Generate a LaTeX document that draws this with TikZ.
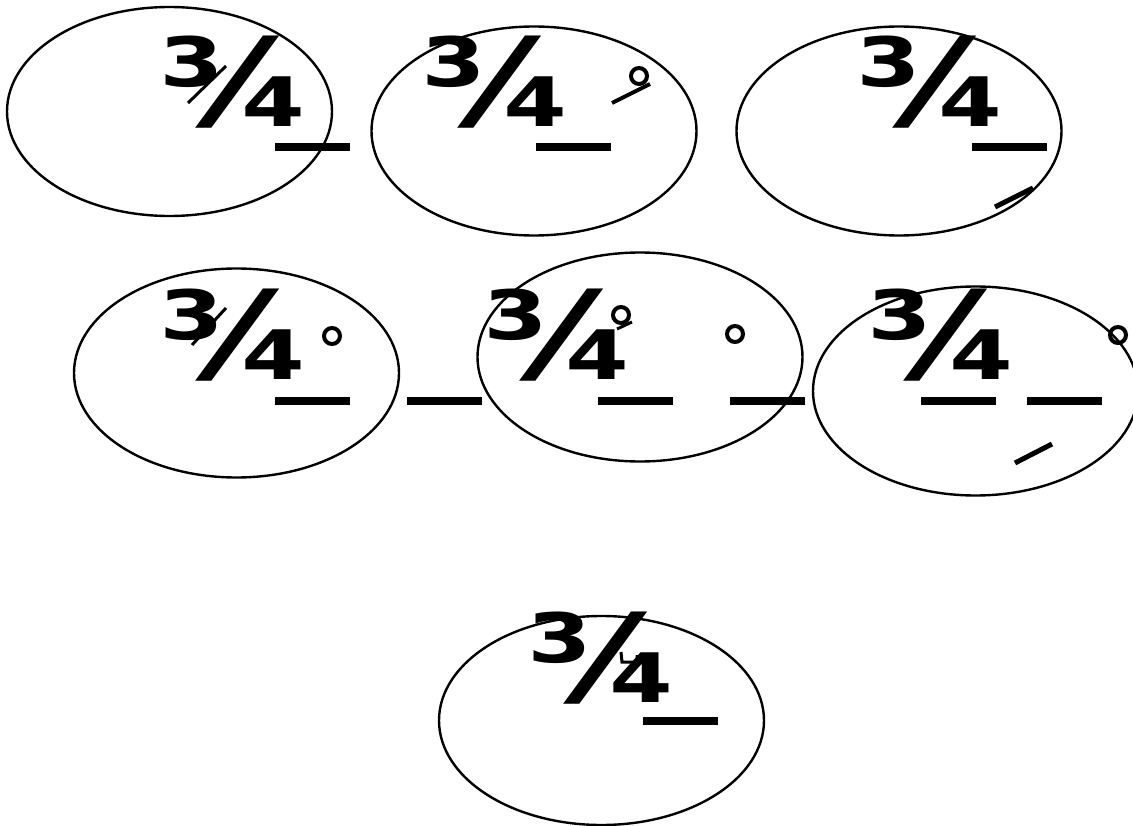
\documentclass[tikz,border=0pt]{standalone}
\usepackage{fontspec}
\newfontfamily\fracfont{DejaVu Sans}[FakeStretch=1.22]
\usetikzlibrary{shapes.geometric,positioning}

\begin{document}
\begin{tikzpicture}[x=1pt,y=-1pt,every node/.style={outer sep=0pt,inner sep=0pt}]
\tikzstyle{oval}=[draw,ellipse,line width=2.4pt,minimum width=325pt,minimum height=209pt]
\tikzstyle{frac}=[font=\fracfont\bfseries\fontsize{122}{122}\selectfont,anchor=base west]
\tikzstyle{bar}=[fill,minimum width=75pt,minimum height=8pt]
\tikzstyle{ring}=[draw,circle,line width=4pt,minimum size=16pt]
\tikzstyle{tick}=[line width=5pt]

\useasboundingbox (0,0) rectangle (1133,826);

% ovals
\node (oval1) [oval] at (169.5,111.5) {};
\node (oval2) [oval] at (534,131) {};
\node (oval3) [oval] at (899,131) {};
\node (oval4) [oval] at (236.5,373) {};
\node (oval5) [oval] at (640,357) {};
\node (oval6) [oval] at (975.5,391) {};
\node (oval7) [oval] at (601.5,720.5) {};

% fractions
\node (frac1) [frac] at (158,127) {¾};
\node (frac2) [frac] at (420,127) {¾};
\node (frac3) [frac] at (855,127) {¾};
\node (frac4) [frac] at (158,380) {¾};
\node (frac5) [frac] at (482,380) {¾};
\node (frac6) [frac] at (866,380) {¾};
\node (frac7) [frac] at (526,702) {¾};

% bars
\node (bar1) [bar] at (312.5,147) {};
\node (bar2) [bar] at (573.5,147) {};
\node (bar3) [bar] at (1009.5,147) {};
\node (bar4a) [bar] at (312.5,401) {};
\node (bar4b) [bar] at (444.5,401) {};
\node (bar5a) [bar] at (635.5,401) {};
\node (bar5b) [bar] at (767.5,401) {};
\node (bar6a) [bar] at (958.5,401) {};
\node (bar6b) [bar] at (1064.5,401) {};
\node (bar7) [bar] at (680.5,721) {};

% rings
\node (ring2) [ring] at (639,76) {};
\node (ring4) [ring] at (332,336) {};
\node (ring5a) [ring] at (621,315) {};
\node (ring5b) [ring] at (735,334) {};
\node (ring6) [ring] at (1118,335) {};

% ticks
\draw [line width=3pt] (188,103) -- (226,66);
\draw [line width=3pt] (192,345) -- (226,308);
\draw [tick,line width=4pt] (612,103) -- (650,84);
\draw [tick] (995,207) -- (1033,188);
\draw [tick,line width=3pt] (617,329) -- (632,322);
\draw [tick] (1015,463) -- (1052,444);
\draw [line width=3pt] (621,652) -- (622,662) -- (637,662) -- (637,655);
\end{tikzpicture}
\end{document}
